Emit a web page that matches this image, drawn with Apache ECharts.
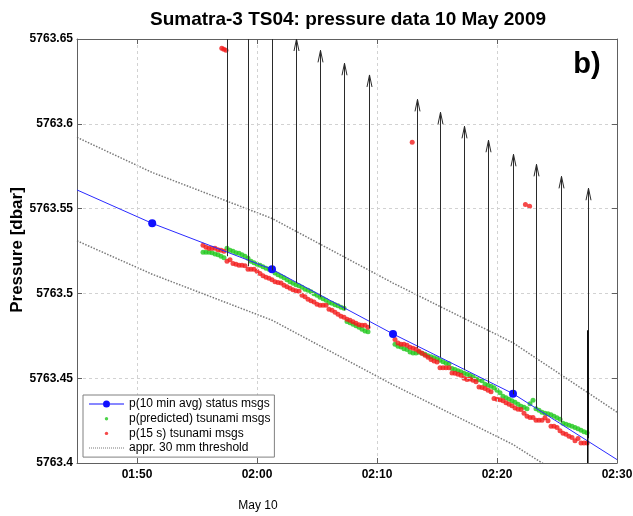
<!DOCTYPE html>
<html><head><meta charset="utf-8">
<script src="https://cdn.jsdelivr.net/npm/echarts@6/dist/echarts.min.js"></script>
<style>html,body{margin:0;padding:0;background:#fff}#c{width:633px;height:516px}</style>
</head><body><div id="c"></div>
<script>
const FONT = '"Liberation Sans", Arial, Helvetica, sans-serif';
const titleText = 'Sumatra-3 TS04: pressure data 10 May 2009';
const yTitle = 'Pressure [dbar]';
const dateLabel = 'May 10';
const panelLabel = 'b)';
const xMin = '01:45:00', xMax = '02:30:00';
const yMin = 5763.4, yMax = 5763.65, yStep = 0.05;

const nameStatus = 'p(10 min avg) status msgs';
const namePred = 'p(predicted) tsunami msgs';
const name15 = 'p(15 s) tsunami msgs';
const nameThr = 'appr. 30 mm threshold';

// 10 min average status messages (line drawn to the axis edges, markers at messages)
const statusTimes  = ['01:45:00','01:51:16','02:01:15','02:11:20','02:21:20','02:30:00'];
const statusValues = [5763.561, 5763.5413, 5763.5142, 5763.4761, 5763.4409, 5763.402];
const statusMarked = [false, true, true, true, true, false];

// approx. 30 mm threshold band
const thrTimes = ['01:45:00','01:51:16','02:01:15','02:11:20','02:21:20','02:30:00'];
const thrUpper = [5763.592, 5763.5713, 5763.5442, 5763.5061, 5763.4709, 5763.430];
const thrLower = [5763.531, 5763.5113, 5763.4842, 5763.4461, 5763.4109, 5763.372];

// tsunami message samples, every 15 s
const sampleStepSec = 15;
const seg1Start = '01:55:30';
const seg2Start = '02:11:30';
const predSeg1 = [5763.5242,5763.5242,5763.5242,5763.5239,5763.5233,5763.5228,5763.5219,5763.5210,
 5763.5266,5763.5254,5763.5248,5763.5239,5763.5236,5763.5228,5763.5219,5763.5207,
 5763.5189,5763.5180,5763.5172,5763.5166,5763.5157,5763.5148,5763.5142,5763.5136,
 5763.5121,5763.5110,5763.5101,5763.5092,5763.5080,5763.5068,5763.5060,5763.5051,
 5763.5045,5763.5036,5763.5024,5763.5018,5763.5009,5763.4998,5763.4989,5763.4977,
 5763.4968,5763.4959,5763.4947,5763.4942,5763.4933,5763.4927,5763.4918,5763.4912,
 5763.4835,5763.4827,5763.4818,5763.4809,5763.4800,5763.4788,5763.4779,5763.4774];
const p15Seg1 = [5763.5284,5763.5272,5763.5266,5763.5266,5763.5266,5763.5257,5763.5254,5763.5248,
 5763.5189,5763.5198,5763.5177,5763.5172,5763.5166,5763.5166,5763.5163,5763.5142,
 5763.5142,5763.5142,5763.5130,5763.5118,5763.5104,5763.5095,5763.5089,5763.5080,
 5763.5068,5763.5065,5763.5062,5763.5048,5763.5039,5763.5030,5763.5021,5763.5015,
 5763.5012,5763.4989,5763.4980,5763.4965,5763.4956,5763.4950,5763.4936,5763.4930,
 5763.4930,5763.4930,5763.4906,5763.4900,5763.4889,5763.4877,5763.4865,5763.4859,
 5763.4847,5763.4841,5763.4833,5763.4824,5763.4815,5763.4812,5763.4812,5763.4800];
const predSeg2 = [5763.4700,5763.4688,5763.4684,5763.4674,5763.4669,5763.4654,5763.4649,5763.4649,
 5763.4653,5763.4647,5763.4641,5763.4632,5763.4626,5763.4620,5763.4614,5763.4606,
 5763.4597,5763.4588,5763.4585,5763.4557,5763.4552,5763.4544,5763.4538,5763.4529,
 5763.4523,5763.4517,5763.4508,5763.4496,5763.4491,5763.4485,5763.4464,5763.4458,
 5763.4452,5763.4443,5763.4429,5763.4414,5763.4393,5763.4384,5763.4376,5763.4367,
 5763.4358,5763.4346,5763.4334,5763.4328,5763.4320,5763.4349,5763.4370,5763.4320,
 5763.4311,5763.4299,5763.4293,5763.4290,5763.4284,5763.4275,5763.4267,5763.4258,
 5763.4234,5763.4228,5763.4222,5763.4216,5763.4210,5763.4202,5763.4193,5763.4184,
 5763.4178];
const p15Seg2 = [5763.4728,5763.4708,5763.4700,5763.4700,5763.4694,5763.4682,5763.4676,5763.4670,
 5763.4659,5763.4647,5763.4635,5763.4623,5763.4610,5763.4601,5763.4595,5763.4562,
 5763.4562,5763.4562,5763.4562,5763.4531,5763.4529,5763.4523,5763.4517,5763.4499,
 5763.4493,5763.4496,5763.4488,5763.4479,5763.4448,5763.4445,5763.4439,5763.4429,
 5763.4420,5763.4381,5763.4376,5763.4373,5763.4367,5763.4355,5763.4346,5763.4337,
 5763.4325,5763.4317,5763.4315,5763.4293,5763.4275,5763.4269,5763.4268,5763.4252,
 5763.4252,5763.4252,5763.4267,5763.4249,5763.4216,5763.4216,5763.4209,5763.4190,
 5763.4175,5763.4169,5763.4157,5763.4150,5763.4131,5763.4144,5763.4118,5763.4118,
 5763.4118];
const p15OutTimes  = ['01:57:04','01:57:14','01:57:25','02:12:56','02:22:22','02:22:43'];
const p15OutValues = [5763.6446, 5763.6440, 5763.6434, 5763.5891, 5763.5524, 5763.5514];

// tsunami message arrows
const msgTimes = ['01:57:31','01:59:13','02:01:15','02:03:14','02:05:14','02:07:14','02:09:19',
 '02:13:19','02:15:16','02:17:16','02:19:17','02:21:20','02:23:17','02:25:18','02:27:34'];
const msgBase = [5763.5219,5763.5160,5763.5136,5763.5060,5763.4977,5763.4900,5763.4794,
 5763.4676,5763.4623,5763.4547,5763.4470,5763.4405,5763.4323,5763.4240,5763.4146];
const msgTip = [5763.6663,5763.6604,5763.6581,5763.6500,5763.6433,5763.6357,5763.6288,
 5763.6144,5763.6068,5763.5985,5763.5903,5763.5820,5763.5761,5763.5690,5763.5620];
const eventTime = '02:27:34', eventLow = 5763.40, eventHigh = 5763.4782;

function toMin(s){ const p = s.split(':').map(Number); return p[0]*60 + p[1] + (p[2]||0)/60; }
function fmtMin(v){ const h = Math.floor(v/60+1e-9), m = Math.round(v - h*60); return String(h).padStart(2,'0')+':'+String(m).padStart(2,'0'); }
function segData(start, vals){ const t0 = toMin(start); return vals.map((v,i)=>[t0 + i*sampleStepSec/60, v]); }

const BLUE = '#2a2aff', GREEN = '#22c81e', RED = '#f21b1b', GRAY = '#7a7a7a';
const AXC = '#606060';

// legend icons (35 x 8 boxes)
const box = 'M0,0L0,0M35,8L35,8';
const iconStatus = 'path://' + box + 'M0,3.5H14V4.5H0ZM21,3.5H35V4.5H21ZM14,4A3.5,3.5 0 1,1 21,4A3.5,3.5 0 1,1 14,4Z';
const iconDot = 'path://' + box + 'M15.8,4A1.7,1.7 0 1,1 19.2,4A1.7,1.7 0 1,1 15.8,4Z';
let dots = box; for (let x = 0; x < 35; x += 2) dots += 'M' + x + ',3.5h1v1h-1Z';
const iconThr = 'path://' + dots;

const chart = echarts.init(document.getElementById('c'), null, {renderer: 'canvas'});

const xAxisBase = {
  type: 'value', min: toMin(xMin), max: toMin(xMax),
  axisLine: {show: true, onZero: false, lineStyle: {color: AXC, width: 1}},
  axisTick: {show: true, inside: true, length: 5, lineStyle: {color: AXC}},
};
const yAxisBase = {
  type: 'value', min: yMin, max: yMax, interval: yStep, scale: true,
  axisLine: {show: true, onZero: false, lineStyle: {color: AXC, width: 1}},
  axisTick: {show: true, inside: true, length: 5, lineStyle: {color: AXC}},
};

chart.setOption({
  animation: false,
  backgroundColor: '#fff',
  textStyle: {fontFamily: FONT},
  grid: {left: 77, top: 39, width: 540, height: 424, containLabel: false, outerBoundsMode: 'none'},
  xAxis: [
    Object.assign({}, xAxisBase, {
      position: 'bottom', z: 3,
      axisLabel: {show: true, margin: 6, fontSize: 12, fontWeight: 'bold', color: '#000', fontFamily: FONT,
        showMinLabel: false, showMaxLabel: true, formatter: fmtMin},
      splitLine: {show: true, showMinLine: false, showMaxLine: false, lineStyle: {color: '#d2d2d2', type: [3, 3], width: 1}}
    }),
    Object.assign({}, xAxisBase, {
      position: 'top', z: 3, axisLabel: {show: false}, splitLine: {show: false}
    })
  ],
  yAxis: [
    Object.assign({}, yAxisBase, {
      position: 'left', z: 3,
      axisLabel: {show: true, margin: 4, fontSize: 12, fontWeight: 'bold', color: '#000', fontFamily: FONT,
        formatter: v => String(parseFloat(v.toFixed(2)))},
      splitLine: {show: true, showMinLine: false, showMaxLine: false, lineStyle: {color: '#d2d2d2', type: [3, 3], width: 1}}
    }),
    Object.assign({}, yAxisBase, {
      position: 'right', z: 3, axisLabel: {show: false}, splitLine: {show: false}
    })
  ],
  legend: {
    orient: 'vertical', left: 83, top: 395, selectedMode: false,
    backgroundColor: '#fff', borderColor: '#808080', borderWidth: 1, borderRadius: 0,
    padding: [3, 4, 3, 6], itemGap: 2.7, itemWidth: 35, itemHeight: 8,
    itemStyle: {borderWidth: 0},
    textStyle: {fontSize: 12, color: '#000', fontFamily: FONT},
    z: 10,
    data: [
      {name: nameStatus, icon: iconStatus},
      {name: namePred, icon: iconDot},
      {name: name15, icon: iconDot},
      {name: nameThr, icon: iconThr}
    ]
  },
  graphic: [
    {type: 'text', x: 348, y: 20, z: 10, style: {text: titleText, fontSize: 19, fontWeight: 'bold', fontFamily: FONT,
      fill: '#000', align: 'center', verticalAlign: 'middle', textAlign: 'center', textVerticalAlign: 'middle'}},
    {type: 'text', x: 17, y: 250, rotation: Math.PI / 2, z: 10, style: {text: yTitle, fontSize: 17, fontWeight: 'bold', fontFamily: FONT,
      fill: '#000', align: 'center', verticalAlign: 'middle', textAlign: 'center', textVerticalAlign: 'middle'}},
    {type: 'text', x: 258, y: 506, z: 10, style: {text: dateLabel, fontSize: 12, fontFamily: FONT,
      fill: '#000', align: 'center', verticalAlign: 'middle', textAlign: 'center', textVerticalAlign: 'middle'}},
    {type: 'text', x: 587, y: 65, z: 10, style: {text: panelLabel, fontSize: 29, fontWeight: 'bold', fontFamily: FONT,
      fill: '#000', align: 'center', verticalAlign: 'middle', textAlign: 'center', textVerticalAlign: 'middle'}}
  ],
  series: [
    {name: nameThr, type: 'line', color: GRAY, z: 1, symbol: 'none', silent: true,
      lineStyle: {color: GRAY, width: 1.5, type: [1.5, 1.5]}, itemStyle: {color: GRAY},
      data: thrTimes.map((t, i) => [toMin(t), thrUpper[i]])},
    {name: nameThr, type: 'line', color: GRAY, z: 1, symbol: 'none', silent: true,
      lineStyle: {color: GRAY, width: 1.5, type: [1.5, 1.5]}, itemStyle: {color: GRAY},
      data: thrTimes.map((t, i) => [toMin(t), thrLower[i]])},
    {name: namePred, type: 'scatter', color: GREEN, z: 2, symbol: 'circle', symbolSize: 5, silent: true,
      itemStyle: {color: GREEN, borderWidth: 0},
      data: segData(seg1Start, predSeg1).concat(segData(seg2Start, predSeg2))},
    {name: name15, type: 'scatter', color: RED, z: 2, symbol: 'circle', symbolSize: 5, silent: true,
      itemStyle: {color: RED, borderWidth: 0},
      data: segData(seg1Start, p15Seg1).concat(segData(seg2Start, p15Seg2))
        .concat(p15OutTimes.map((t, i) => [toMin(t), p15OutValues[i]]))},
    {name: nameStatus, type: 'line', color: BLUE, z: 3, silent: true, showSymbol: true, showAllSymbol: true,
      symbol: 'circle', symbolSize: 8,
      lineStyle: {color: BLUE, width: 1}, itemStyle: {color: '#1010ff', borderWidth: 0},
      data: statusTimes.map((t, i) => ({value: [toMin(t), statusValues[i]], symbol: statusMarked[i] ? 'circle' : 'none'}))},
    {name: 'msg', type: 'custom', z: 4, silent: true, clip: true,
      data: msgTimes.map((t, i) => [toMin(t), msgBase[i], msgTip[i]]),
      encode: {x: 0, y: [1, 2]},
      renderItem: function (params, api) {
        const b = api.coord([api.value(0), api.value(1)]);
        const t = api.coord([api.value(0), api.value(2)]);
        const x = Math.round(b[0]) + 0.5;
        return {type: 'group', children: [
          {type: 'line', shape: {x1: x, y1: b[1], x2: x, y2: t[1]}, style: {stroke: '#2a2a2a', lineWidth: 1}},
          {type: 'polyline', shape: {points: [[x - 2.5, t[1] + 12], [x, t[1]], [x + 2.5, t[1] + 12]]},
            style: {stroke: '#2a2a2a', lineWidth: 1, fill: null}}
        ]};
      }},
    {name: 'event', type: 'line', z: 4, silent: true, symbol: 'none',
      lineStyle: {color: '#000', width: 1.5},
      data: [[toMin(eventTime), eventLow], [toMin(eventTime), eventHigh]]}
  ]
});
</script>
</body></html>
